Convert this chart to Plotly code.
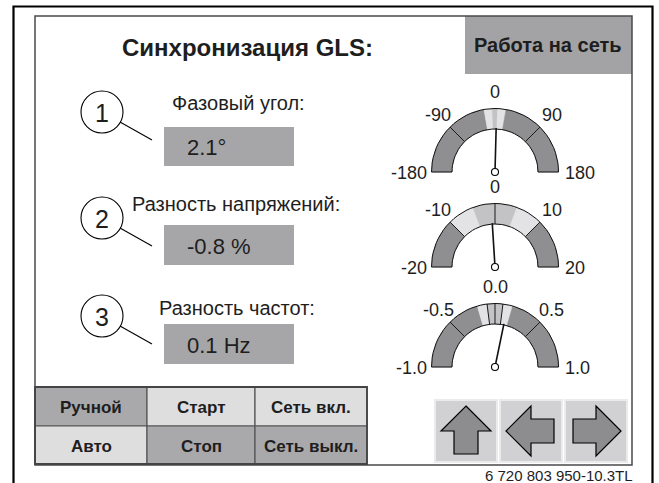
import math
import plotly.graph_objects as go

W, H = 659, 483
FONT = "Liberation Sans, Arial, Helvetica, sans-serif"
INK = "#1e1e1e"

# ---------------- data ----------------
title_text = "Синхронизация GLS:"
mode_text = "Работа на сеть"
param_numbers = ["1", "2", "3"]
param_labels = ["Фазовый угол:", "Разность напряжений:", "Разность частот:"]
param_values = [2.1, -0.8, 0.1]
param_units = ["°", " %", " Hz"]

gauge_min = [-180, -20, -1.0]
gauge_max = [180, 20, 1.0]
gauge_tick_values = [[-180, -90, 0, 90, 180], [-20, -10, 0, 10, 20], [-1.0, -0.5, 0.0, 0.5, 1.0]]
gauge_tick_labels = [["-180", "-90", "0", "90", "180"], ["-20", "-10", "0", "10", "20"],
                     ["-1.0", "-0.5", "0.0", "0.5", "1.0"]]
gauge_band_edges = [[-180, -20, -5, 5, 20, 180], [-20, -10, -4.5, 4.5, 10, 20],
                    [-1.0, -0.18, -0.08, 0.08, 0.18, 1.0]]
gauge_band_colors = ["#8f8f91", "#e3e3e5", "#c3c3c5", "#e3e3e5", "#8f8f91"]
gauge_dividers = [[-90, 90], [-10, 0, 10], [-0.5, -0.08, 0.0, 0.08, 0.5]]
needle_values = [3, -0.8, 0.13]

button_rows = [["Ручной", "Старт", "Сеть вкл."], ["Авто", "Стоп", "Сеть выкл."]]
button_active = [[True, False, False], [False, True, True]]
arrow_buttons = ["up", "left", "right"]
footer_text = "6 720 803 950-10.3TL"

# ---------------- layout constants ----------------
GX = 495
GY = [172, 267, 367]
R_OUT, R_IN, R_NEEDLE = 63.5, 43, 44

fig = go.Figure()
shapes = []
ann = []


def pt(cx, cy, r, th):
    return cx + r * math.cos(th), cy - r * math.sin(th)


def theta(v, lo, hi):
    return math.pi * (hi - v) / (hi - lo)


def arc(cx, cy, r, t0, t1, n=40):
    xs, ys = [], []
    for i in range(n + 1):
        t = t0 + (t1 - t0) * i / n
        x, y = pt(cx, cy, r, t)
        xs.append(x)
        ys.append(y)
    return xs, ys


def line_trace(xs, ys, color="black", width=1.0):
    fig.add_trace(go.Scatter(x=xs, y=ys, mode="lines", line=dict(color=color, width=width),
                             hoverinfo="skip", showlegend=False))


# outer frames
shapes.append(dict(type="rect", x0=465, y0=16, x1=632, y1=74, fillcolor="#a3a3a5",
                   line=dict(width=0), layer="below"))
shapes.append(dict(type="path", path="M13.5,483 L13.5,6.5 L652.5,6.5 L652.5,483",
                   line=dict(color="black", width=2.2)))
shapes.append(dict(type="rect", x0=35, y0=16, x1=632, y1=465, line=dict(color="#4a4a4a", width=1.5)))

ann.append(dict(x=247, y=47, text=f"<b>{title_text}</b>", font=dict(size=24, color=INK)))
ann.append(dict(x=548, y=45, text=f"<b>{mode_text}</b>", font=dict(size=20, color=INK)))

# parameter blocks
CIRC_Y = [112, 218, 316]
LABEL_POS = [(170, 103), (130, 204), (157, 308)]
BOX_Y = [(127, 166), (225, 265), (324, 364)]
for i in range(3):
    cy = CIRC_Y[i]
    shapes.append(dict(type="circle", x0=81, y0=cy - 21, x1=123, y1=cy + 21,
                       line=dict(color="black", width=1.1)))
    shapes.append(dict(type="line", x0=120, y0=cy + 10, x1=152, y1=cy + 28,
                       line=dict(color="black", width=1.1)))
    ann.append(dict(x=102, y=cy + 1, text=param_numbers[i], font=dict(size=25, color=INK)))
    lx, ly = LABEL_POS[i]
    ann.append(dict(x=lx, y=ly, text=param_labels[i], xanchor="left", font=dict(size=20, color=INK)))
    y0, y1 = BOX_Y[i]
    shapes.append(dict(type="rect", x0=164, y0=y0, x1=294, y1=y1, fillcolor="#a6a6a8",
                       line=dict(width=0), layer="below"))
    ann.append(dict(x=185, y=(y0 + y1) / 2 + 1, text=f"{param_values[i]:.1f}{param_units[i]}",
                    xanchor="left", font=dict(size=22, color=INK)))

# gauges
for g in range(3):
    lo, hi = gauge_min[g], gauge_max[g]
    cy = GY[g]
    edges = gauge_band_edges[g]
    for k in range(len(edges) - 1):
        t0, t1 = theta(edges[k], lo, hi), theta(edges[k + 1], lo, hi)
        xo, yo = arc(GX, cy, R_OUT, t0, t1)
        xi, yi = arc(GX, cy, R_IN, t1, t0)
        fig.add_trace(go.Scatter(x=xo + xi + [xo[0]], y=yo + yi + [yo[0]], mode="lines",
                                 fill="toself", fillcolor=gauge_band_colors[k],
                                 line=dict(width=0.5, color=gauge_band_colors[k]),
                                 hoverinfo="skip", showlegend=False))
    # dividers
    dx, dy = [], []
    for v in gauge_dividers[g]:
        t = theta(v, lo, hi)
        a = pt(GX, cy, R_IN, t)
        b = pt(GX, cy, R_OUT, t)
        dx += [a[0], b[0], None]
        dy += [a[1], b[1], None]
    line_trace(dx, dy, "#1a1a1a", 1.0)
    # outline
    xo, yo = arc(GX, cy, R_OUT, math.pi, 0)
    xi, yi = arc(GX, cy, R_IN, 0, math.pi)
    line_trace(xo + xi + [xo[0]], yo + yi + [yo[0]], "#111111", 1.0)
    # needle
    t = theta(needle_values[g], lo, hi)
    tip = pt(GX, cy, R_NEEDLE, t)
    line_trace([GX, tip[0]], [cy, tip[1]], "#111111", 1.6)
    fig.add_trace(go.Scatter(x=[GX], y=[cy], mode="markers",
                             marker=dict(size=7, color="white", line=dict(color="black", width=1.1)),
                             hoverinfo="skip", showlegend=False))
    # tick labels
    for v, lab in zip(gauge_tick_values[g], gauge_tick_labels[g]):
        t = theta(v, lo, hi)
        if abs(t - math.pi) < 1e-6:
            ann.append(dict(x=GX - 66, y=cy + 1, text=lab, xanchor="right", font=dict(size=18, color=INK)))
        elif abs(t) < 1e-6:
            ann.append(dict(x=GX + 68, y=cy + 1, text=lab, xanchor="left", font=dict(size=18, color=INK)))
        else:
            x, y = pt(GX, cy, 80, t)
            ann.append(dict(x=x, y=y, text=lab, font=dict(size=18, color=INK)))

# bottom button table
COLS = [35, 147, 255, 367]
ROWS = [387, 426, 464]
for r in range(2):
    for c in range(3):
        fill = "#a9a9ab" if button_active[r][c] else "#dededf"
        shapes.append(dict(type="rect", x0=COLS[c], y0=ROWS[r], x1=COLS[c + 1], y1=ROWS[r + 1],
                           fillcolor=fill, line=dict(color="#555555", width=1.2), layer="below"))
        ann.append(dict(x=(COLS[c] + COLS[c + 1]) / 2, y=(ROWS[r] + ROWS[r + 1]) / 2 + 1,
                        text=f"<b>{button_rows[r][c]}</b>", font=dict(size=17, color=INK)))
shapes.append(dict(type="rect", x0=COLS[0], y0=ROWS[0], x1=COLS[-1], y1=ROWS[-1],
                   line=dict(color="#444444", width=1.8)))

# arrow buttons
BTN_X = [435, 500, 565]
BTN_W, BTN_Y0, BTN_Y1 = 62, 400, 462
up_arrow = [(0, -25), (25, 0), (12, 0), (12, 23), (-12, 23), (-12, 0), (-25, 0)]
for i, kind in enumerate(arrow_buttons):
    x0 = BTN_X[i]
    shapes.append(dict(type="rect", x0=x0, y0=BTN_Y0, x1=x0 + BTN_W, y1=BTN_Y1,
                       fillcolor="#d1d1d3", line=dict(color="#ebebeb", width=2), layer="below"))
    cx, cy = x0 + BTN_W / 2, (BTN_Y0 + BTN_Y1) / 2
    if kind == "up":
        pts = [(cx + x, cy + y) for x, y in up_arrow]
    elif kind == "left":
        pts = [(cx + y, cy + x) for x, y in up_arrow]
    else:
        pts = [(cx - y, cy + x) for x, y in up_arrow]
    path = "M" + " L".join(f"{x:.1f},{y:.1f}" for x, y in pts) + " Z"
    shapes.append(dict(type="path", path=path, fillcolor="#8d8d8f", line=dict(color="black", width=1.2)))

ann.append(dict(x=635, y=475, text=footer_text, xanchor="right", font=dict(size=15, color=INK)))

for a in ann:
    a.setdefault("xanchor", "center")
    a.update(xref="x", yref="y", yanchor="middle", showarrow=False)

fig.update_layout(
    width=W, height=H, margin=dict(l=0, r=0, t=0, b=0),
    paper_bgcolor="white", plot_bgcolor="white",
    font=dict(family=FONT, color=INK),
    xaxis=dict(range=[0, W], visible=False, fixedrange=True),
    yaxis=dict(range=[H, 0], visible=False, fixedrange=True),
    shapes=shapes, annotations=ann, showlegend=False,
)
fig.write_html("out.html", config={"displayModeBar": False},
               post_script="document.body.style.margin='0';document.body.style.overflow='hidden';")
